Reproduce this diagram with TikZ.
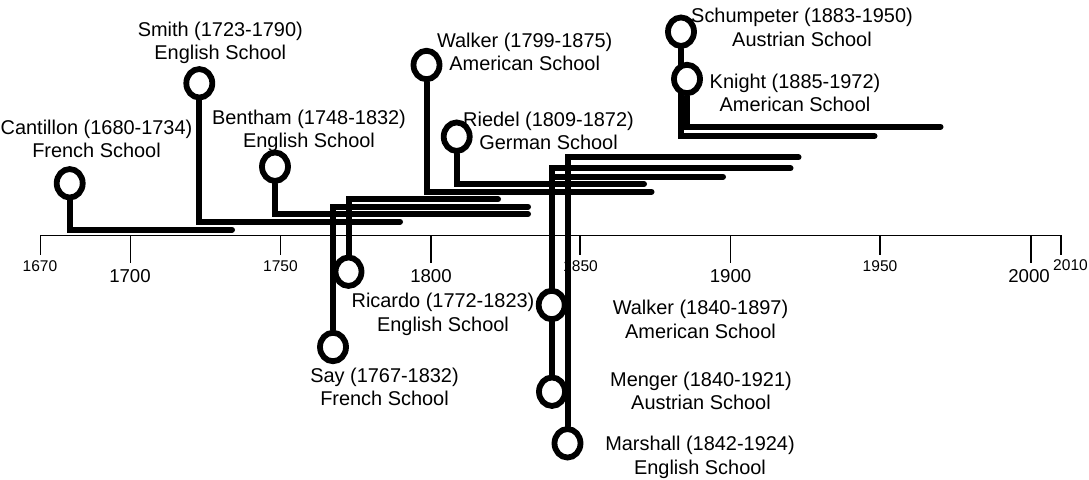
\documentclass[tikz,border=0pt]{standalone}
\usepackage{fontspec}
\setmainfont{Liberation Sans}
\usetikzlibrary{shapes.geometric,backgrounds}

\begin{document}
\begin{tikzpicture}[
  x=1bp, y=-1bp,
  every node/.style={font=\fontsize{20pt}{23.5pt}\selectfont},
  school/.style={align=center, inner sep=0pt},
  dot/.style={shape=ellipse, draw, line width=5.8bp, fill=white,
    minimum width=26bp, minimum height=28.5bp, inner sep=0pt},
  life/.style={draw, line width=6bp, line cap=round},
  axis/.style={draw, line width=1.2bp},
  minor/.style={font=\fontsize{15.6pt}{18pt}\selectfont, inner sep=0pt},
  major/.style={font=\fontsize{18.7pt}{22pt}\selectfont, inner sep=0pt}
]
\useasboundingbox (0,0) rectangle (1089,480);

% time axis
\coordinate (axisL) at (40,235.5);
\coordinate (axisR) at (1061,235.5);
\draw [axis] (axisL) -- (axisR);
\foreach \yr/\xx in {1670/40.5, 1750/280.5, 1850/580, 1950/880, 2010/1061} {
  \coordinate (tick\yr) at (\xx,235.5);
  \draw [axis] (tick\yr) -- ++(0,19.5);
}
\foreach \yr/\xx in {1700/130.5, 1800/431, 1900/730.5, 2000/1031} {
  \coordinate (tick\yr) at (\xx,235.5);
  \draw [axis] (tick\yr) -- ++(0,28);
}
\foreach \yr/\xx in {1670/40, 1750/280.5, 1850/580.5, 1950/880}
  \node [minor] (year\yr) at (\xx,266.5) {\yr};
\node [minor] (year2010) at (1070.5,265) {2010};
\foreach \yr/\xx in {1700/130, 1800/431, 1900/730.5, 2000/1029}
  \node [major] (year\yr) at (\xx,276.3) {\yr};

% economists
\node [dot] (cantillon) at (69.7,183.3) {};
\node [dot] (smith) at (199.3,83.3) {};
\node [dot] (bentham) at (275,166.7) {};
\node [dot] (say) at (333,347) {};
\node [dot] (ricardo) at (348.5,271.7) {};
\node [dot] (walkerA) at (426.5,65) {};
\node [dot] (riedel) at (456.7,136.7) {};
\node [dot] (walkerB) at (551.7,305) {};
\node [dot] (menger) at (552,391.7) {};
\node [dot] (marshall) at (567.5,443.3) {};
\node [dot] (schumpeter) at (681,31.7) {};
\node [dot] (knight) at (687,79) {};

\node [school] (cantillonText) at (96.5,138.7) {Cantillon (1680-1734)\\French School};
\node [school] (smithText) at (220.3,43) {Smith (1723-1790)\\English School};
\node [school] (benthamText) at (309,130.7) {Bentham (1748-1832)\\English School};
\node [school] (sayText) at (384.5,387) {Say (1767-1832)\\French School};
\node [school] (ricardoText) at (443,314.3) {Ricardo (1772-1823)\\English School};
\node [school] (walkerAText) at (524.7,52) {Walker (1799-1875)\\American School};
\node [school] (riedelText) at (548.5,131) {Riedel (1809-1872)\\German School};
\node [school] (walkerBText) at (700.5,319.3) {Walker (1840-1897)\\American School};
\node [school] (mengerText) at (701,391) {Menger (1840-1921)\\Austrian School};
\node [school] (marshallText) at (700,457.5) {Marshall (1842-1924)\\English School};
\node [school] (schumpeterText) at (802,27.2) {Schumpeter (1883-1950)\\Austrian School};
\node [school] (knightText) at (795,92.8) {Knight (1885-1972)\\American School};

% life spans
\coordinate (cantillonEnd) at (232,229.8);
\coordinate (smithEnd) at (400,221.7);
\coordinate (benthamEnd) at (528,214);
\coordinate (sayEnd) at (528,206.7);
\coordinate (ricardoEnd) at (498,199.3);
\coordinate (walkerAEnd) at (651.5,191.7);
\coordinate (riedelEnd) at (644,184);
\coordinate (walkerBEnd) at (723,176.7);
\coordinate (mengerEnd) at (790.5,168.3);
\coordinate (marshallEnd) at (798.5,157.3);
\coordinate (schumpeterEnd) at (874.5,136);
\coordinate (knightEnd) at (940.5,126.7);

\begin{scope}[on background layer]
  \foreach \who in {cantillon, smith, bentham, walkerA, riedel, schumpeter, knight}
    \draw [life] (\who.south) |- (\who End);
  \foreach \who in {say, ricardo, walkerB, menger, marshall}
    \draw [life] (\who.north) |- (\who End);
\end{scope}
\end{tikzpicture}
\end{document}
